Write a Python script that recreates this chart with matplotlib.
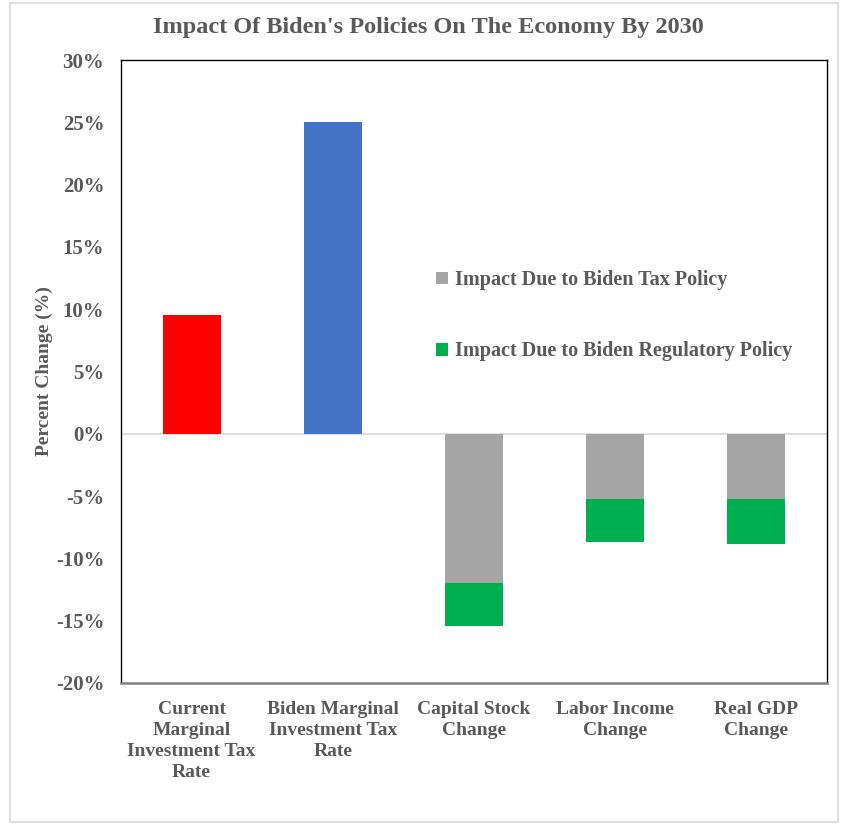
import matplotlib.pyplot as plt
from matplotlib.patches import Rectangle, Patch

# data (percent change)
categories = ["Current\nMarginal\nInvestment Tax\nRate", "Biden Marginal\nInvestment Tax\nRate",
              "Capital Stock\nChange", "Labor Income\nChange", "Real GDP\nChange"]
rates = [9.5, 25.0, 0, 0, 0]
rate_colors = ["#FF0000", "#4472C4", "none", "none", "none"]
tax_impact = [0, 0, -12.0, -5.2, -5.2]
reg_impact = [0, 0, -3.4, -3.45, -3.65]
yticks = [-20, -15, -10, -5, 0, 5, 10, 15, 20, 25, 30]
series_names = ["Impact Due to Biden Tax Policy", "Impact Due to Biden Regulatory Policy"]
series_colors = ["#A5A5A5", "#00B050"]

plt.rcParams['font.family'] = ['Liberation Serif', 'DejaVu Serif']
plt.rcParams['font.weight'] = 'bold'
txt = "#595959"

fig = plt.figure(figsize=(8.42, 8.25), dpi=100)
ax = fig.add_axes([121/842, 1 - 683/825, (827-121)/842, (683-60)/825])

x = range(len(categories))
w = 0.41
ax.bar(x, rates, w, color=rate_colors)
ax.bar(x, tax_impact, w, color=series_colors[0])
ax.bar(x, reg_impact, w, bottom=tax_impact, color=series_colors[1])
ax.axhline(0, color="#D9D9D9", lw=1.2, zorder=0)

ax.set_xlim(-0.5, len(categories) - 0.5)
ax.set_ylim(-20, 30)
ax.set_yticks(yticks)
ax.set_yticklabels([f"{v}%" for v in yticks], fontsize=15, color=txt, fontweight='bold')
ax.set_xticks(list(x))
ax.set_xticklabels(categories, fontsize=14, color=txt, fontweight='bold', linespacing=1.3)
ax.tick_params(length=0, pad=12)
ax.tick_params(axis='x', pad=13)

for s in ['left', 'top', 'right']:
    ax.spines[s].set_color("#000000")
    ax.spines[s].set_linewidth(1.0)
ax.spines['bottom'].set_color("#7F7F7F")
ax.spines['bottom'].set_linewidth(1.8)

ax.set_ylabel("Percent Change (%)", fontsize=14, color=txt, fontweight='bold', labelpad=2)
fig.text(428/842, 1 - 28/825, "Impact Of Biden's Policies On The Economy By 2030",
         ha='center', va='center', fontsize=17.5, color=txt, fontweight='bold')

handles = [Patch(facecolor=c, edgecolor='none') for c in series_colors]
ax.legend(handles, series_names, loc='upper left',
          bbox_to_anchor=((428-121)/706, (683-262)/623),
          frameon=False, labelcolor=txt, handlelength=0.6, handleheight=0.6,
          handletextpad=0.35, labelspacing=2.55, borderaxespad=0,
          prop={'weight': 'bold', 'size': 14.5})

# light outer border of the chart area
fig.patches.append(Rectangle((10/842, 3/825), (838-10)/842, (822-3)/825, transform=fig.transFigure,
                             fill=False, edgecolor="#D9D9D9", lw=1.2))

fig.savefig("out.png", dpi=100)
